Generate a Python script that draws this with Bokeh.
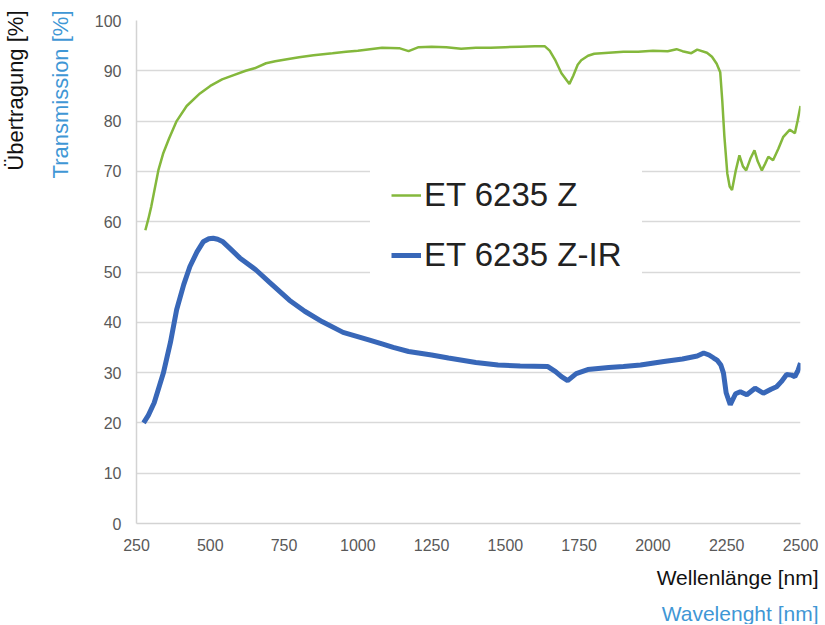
from bokeh.plotting import figure
from bokeh.models import Range1d, Legend, LegendItem, Title, FixedTicker
from bokeh.embed import file_html
from bokeh.resources import INLINE

# ---- data ----
z_nm = [280, 290, 300, 310, 324, 340, 360, 386, 420, 465, 500, 540, 577, 620, 650, 689, 720, 760,
        801, 850, 914, 960, 1000, 1082, 1140, 1172, 1206, 1250, 1300, 1350, 1400, 1450, 1500, 1550,
        1600, 1633, 1650, 1670, 1690, 1717, 1730, 1745, 1757, 1780, 1801, 1850, 1900, 1950, 2000,
        2050, 2080, 2100, 2130, 2150, 2183, 2200, 2216, 2228, 2235, 2242, 2252, 2260, 2268, 2280,
        2293, 2305, 2316, 2330, 2344, 2355, 2369, 2380, 2391, 2407, 2425, 2441, 2464, 2481, 2490, 2500]
z_val = [58.3, 60.5, 63, 66, 70.2, 73.5, 76.5, 80, 83, 85.5, 87, 88.3, 89.1, 90, 90.5, 91.5, 91.9, 92.3,
         92.7, 93.1, 93.5, 93.8, 94, 94.6, 94.5, 93.9, 94.7, 94.8, 94.7, 94.4, 94.6, 94.6, 94.7, 94.8,
         94.9, 94.9, 94, 92, 89.5, 87.4, 89, 91.2, 92.1, 93, 93.4, 93.6, 93.8, 93.8, 94,
         93.9, 94.3, 93.9, 93.5, 94.2, 93.6, 92.8, 91.4, 89.7, 84, 77, 69.6, 67, 66.3, 70,
         73.2, 71, 70.2, 72.5, 74.2, 72, 70.2, 71.5, 72.9, 72.2, 74.5, 76.8, 78.3, 77.6, 80, 83]

zir_nm = [274, 290, 310, 341, 365, 386, 410, 431, 455, 476, 495, 510, 525, 543, 570, 600, 655, 700,
          768, 820, 880, 950, 1037, 1082, 1120, 1172, 1250, 1307, 1400, 1475, 1550, 1644, 1670, 1690,
          1711, 1740, 1779, 1850, 1900, 1958, 2037, 2100, 2150, 2172, 2190, 2206, 2217, 2230, 2239,
          2248, 2262, 2280, 2296, 2318, 2346, 2374, 2400, 2419, 2435, 2453, 2470, 2481, 2492, 2500]
zir_val = [20, 21.5, 24, 29.9, 36, 42.5, 47.5, 51.1, 54, 56, 56.6, 56.7, 56.5, 56, 54.5, 52.8, 50.4, 48,
           44.4, 42.2, 40.1, 38, 36.5, 35.7, 35, 34.2, 33.5, 32.9, 32, 31.5, 31.3, 31.2, 30.2, 29.2,
           28.4, 29.8, 30.6, 31, 31.2, 31.5, 32.2, 32.7, 33.3, 33.9, 33.5, 32.9, 32.5, 31.5, 29.9,
           26, 23.6, 25.8, 26.2, 25.6, 26.9, 25.9, 26.7, 27.2, 28.2, 29.6, 29.5, 29.2, 30.5, 31.9]

x_ticks = [250, 500, 750, 1000, 1250, 1500, 1750, 2000, 2250, 2500]
y_ticks = [0, 10, 20, 30, 40, 50, 60, 70, 80, 90, 100]

series_names = ["ET 6235 Z", "ET 6235 Z-IR"]

GREEN = "#84b83c"
BLUE = "#3867b8"
LIGHTBLUE = "#3f97d5"

p = figure(width=820, height=624, output_backend="svg", toolbar_location=None,
           x_range=Range1d(250, 2500), y_range=Range1d(0, 100),
           min_border_left=131, min_border_right=20, min_border_top=20, min_border_bottom=100)
p.outline_line_color = None
p.background_fill_color = "white"
p.border_fill_color = "white"

p.xgrid.grid_line_color = None
p.ygrid.grid_line_color = "#d9d9d9"
p.ygrid.grid_line_width = 1.5
p.ygrid.ticker = FixedTicker(ticks=y_ticks)

for ax in (p.xaxis[0], p.yaxis[0]):
    ax.axis_line_color = "#d3d3d3"
    ax.axis_line_width = 1.5
    ax.major_tick_line_color = None
    ax.minor_tick_line_color = None
    ax.major_tick_out = 0
    ax.major_tick_in = 0
    ax.major_label_text_font = "Liberation Sans"
    ax.major_label_text_font_size = "16px"
    ax.major_label_text_color = "#595959"

p.xaxis.ticker = FixedTicker(ticks=x_ticks)
p.yaxis.ticker = FixedTicker(ticks=y_ticks)
p.xaxis.major_label_standoff = 15
p.yaxis.major_label_standoff = 15

r1 = p.line(z_nm, z_val, line_color=GREEN, line_width=2.5)
r2 = p.line(zir_nm, zir_val, line_color=BLUE, line_width=5)

legend = Legend(items=[LegendItem(label=series_names[0], renderers=[r1]),
                       LegendItem(label=series_names[1], renderers=[r2])],
                location=(234, 228), orientation="vertical",
                background_fill_color="white", background_fill_alpha=1.0,
                border_line_color="white", border_line_alpha=1.0,
                padding=20, margin=0, spacing=22,
                glyph_width=30, glyph_height=38, label_standoff=3,
                label_text_font="Liberation Sans", label_text_font_size="33px",
                label_text_color="#222222")
p.add_layout(legend, "center")

# axis titles
p.add_layout(Title(text="Transmission [%]", align="right", text_color=LIGHTBLUE,
                   text_font="Liberation Sans", text_font_size="22px", text_font_style="normal",
                   standoff=37, offset=-10), "left")
p.add_layout(Title(text="Übertragung [%]", align="right", text_color="#111111",
                   text_font="Liberation Sans", text_font_size="22px", text_font_style="normal",
                   standoff=0, offset=-10), "left")
p.add_layout(Title(text="Wellenlänge [nm]", align="right", text_color="#111111",
                   text_font="Liberation Sans", text_font_size="21px", text_font_style="normal",
                   standoff=21, offset=-18), "below")
p.add_layout(Title(text="Wavelenght [nm]", align="right", text_color=LIGHTBLUE,
                   text_font="Liberation Sans", text_font_size="21px", text_font_style="normal",
                   standoff=0, offset=-18), "below")

open("out.html", "w").write(file_html(p, INLINE))
